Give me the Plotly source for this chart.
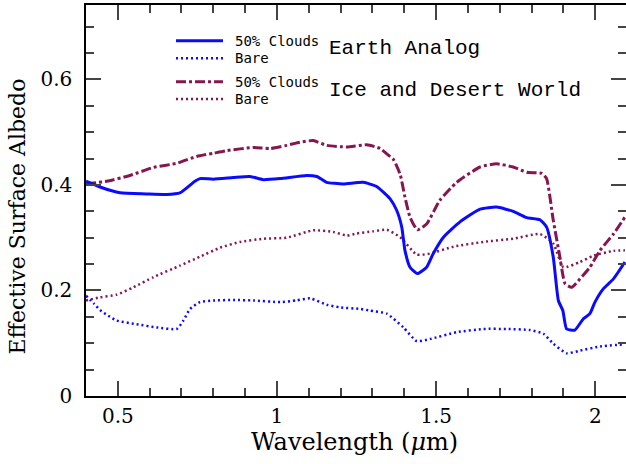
import plotly.graph_objects as go

# ---------------- data ----------------
earth_cloud_wl = [0.40, 0.444, 0.507, 0.59, 0.653, 0.695, 0.742, 0.758, 0.80, 0.863, 0.915, 0.957,
                  1.01, 1.093, 1.125, 1.145, 1.156, 1.208, 1.271, 1.313, 1.34, 1.355, 1.376, 1.392,
                  1.402, 1.418, 1.441, 1.47, 1.491, 1.523, 1.575, 1.638, 1.69, 1.742, 1.785, 1.826,
                  1.847, 1.868, 1.884, 1.898, 1.91, 1.936, 1.962, 1.983, 1.999, 2.025, 2.057, 2.093]
earth_cloud_alb = [0.407, 0.396, 0.385, 0.383, 0.382, 0.385, 0.407, 0.412, 0.411, 0.414, 0.416, 0.410,
                   0.412, 0.418, 0.416, 0.409, 0.405, 0.402, 0.405, 0.397, 0.383, 0.374, 0.352, 0.320,
                   0.276, 0.244, 0.232, 0.244, 0.270, 0.301, 0.330, 0.354, 0.358, 0.350, 0.338, 0.334,
                   0.320, 0.263, 0.181, 0.162, 0.127, 0.125, 0.146, 0.156, 0.178, 0.203, 0.222, 0.254]

earth_bare_wl = [0.40, 0.425, 0.444, 0.47, 0.496, 0.559, 0.622, 0.685, 0.706, 0.727, 0.758, 0.80,
                 0.863, 0.926, 1.01, 1.06, 1.104, 1.156, 1.198, 1.261, 1.292, 1.345, 1.397, 1.439,
                 1.481, 1.565, 1.648, 1.722, 1.795, 1.837, 1.868, 1.91, 1.952, 2.015, 2.093]
earth_bare_alb = [0.190, 0.175, 0.163, 0.152, 0.143, 0.136, 0.130, 0.127, 0.143, 0.165, 0.178, 0.181,
                  0.182, 0.181, 0.178, 0.181, 0.185, 0.173, 0.168, 0.165, 0.162, 0.156, 0.130, 0.104,
                  0.108, 0.121, 0.127, 0.127, 0.125, 0.118, 0.099, 0.081, 0.086, 0.094, 0.098]

ice_cloud_wl = [0.40, 0.465, 0.538, 0.611, 0.685, 0.748, 0.80, 0.842, 0.926, 0.978, 1.031, 1.072,
                1.114, 1.156, 1.219, 1.282, 1.324, 1.345, 1.366, 1.387, 1.402, 1.418, 1.441, 1.47,
                1.512, 1.565, 1.638, 1.69, 1.742, 1.785, 1.832, 1.847, 1.868, 1.889, 1.905, 1.926,
                1.952, 1.983, 2.015, 2.057, 2.093]
ice_cloud_alb = [0.402, 0.407, 0.418, 0.433, 0.441, 0.454, 0.460, 0.465, 0.471, 0.469, 0.475, 0.481,
                 0.484, 0.475, 0.472, 0.476, 0.469, 0.459, 0.448, 0.420, 0.377, 0.339, 0.315, 0.326,
                 0.371, 0.405, 0.434, 0.440, 0.434, 0.424, 0.422, 0.412, 0.333, 0.263, 0.213, 0.206,
                 0.222, 0.244, 0.276, 0.307, 0.339]

ice_bare_wl = [0.40, 0.444, 0.496, 0.549, 0.611, 0.695, 0.758, 0.821, 0.884, 0.957, 1.03, 1.114,
               1.177, 1.219, 1.25, 1.30, 1.345, 1.387, 1.439, 1.481, 1.554, 1.648, 1.742, 1.826,
               1.868, 1.90, 1.952, 1.994, 2.057, 2.093]
ice_bare_alb = [0.181, 0.187, 0.192, 0.206, 0.225, 0.247, 0.264, 0.281, 0.292, 0.298, 0.300, 0.314,
                0.311, 0.304, 0.308, 0.312, 0.315, 0.301, 0.268, 0.270, 0.283, 0.292, 0.298, 0.307,
                0.289, 0.244, 0.254, 0.266, 0.275, 0.276]

x_tickvals = [0.5, 1.0, 1.5, 2.0]
x_ticktext = ["0.5", "1", "1.5", "2"]
y_tickvals = [0.0, 0.2, 0.4, 0.6]
y_ticktext = ["0", "0.2", "0.4", "0.6"]

x_title = "Wavelength (<i>μ</i>m)"
y_title = "Effective Surface Albedo"

BLUE = "#0a0aff"
MAROON = "#861650"
SERIF = "DejaVu Serif"
SMOOTH = 0.5

fig = go.Figure()
fig.add_trace(go.Scatter(x=earth_bare_wl, y=earth_bare_alb, mode="lines",
                         line=dict(color=BLUE, width=2.5, dash="2px,3px", shape="spline", smoothing=SMOOTH),
                         showlegend=False))
fig.add_trace(go.Scatter(x=ice_bare_wl, y=ice_bare_alb, mode="lines",
                         line=dict(color=MAROON, width=2.5, dash="2px,3px", shape="spline", smoothing=SMOOTH),
                         showlegend=False))
fig.add_trace(go.Scatter(x=ice_cloud_wl, y=ice_cloud_alb, mode="lines",
                         line=dict(color=MAROON, width=3, dash="10px,3px,3px,3px", shape="spline",
                                   smoothing=SMOOTH),
                         showlegend=False))
fig.add_trace(go.Scatter(x=earth_cloud_wl, y=earth_cloud_alb, mode="lines",
                         line=dict(color=BLUE, width=3, shape="spline", smoothing=SMOOTH),
                         showlegend=False))
# invisible trace to register mirrored axes
fig.add_trace(go.Scatter(x=[None], y=[None], xaxis="x2", yaxis="y2", showlegend=False,
                         hoverinfo="skip"))

XR = [0.4, 2.0965]
YR = [0.0, 0.741]
tick_common = dict(ticks="inside", ticklen=15, tickwidth=1.5, tickcolor="#444", automargin=False)

fig.update_layout(
    width=626, height=464,
    margin=dict(l=86, r=0, t=5, b=68),
    paper_bgcolor="white", plot_bgcolor="white",
    font=dict(family=SERIF, size=20, color="black"),
    xaxis=dict(range=XR, tickvals=x_tickvals, ticktext=x_ticktext, showgrid=False, zeroline=False,
               showline=True, linecolor="black", linewidth=1.5, ticklabelstandoff=1,
               minor=dict(dtick=0.1, tick0=0.4, ticks="inside", ticklen=8, tickwidth=1.5, tickcolor="#444"),
               **tick_common),
    yaxis=dict(range=YR, tickvals=y_tickvals, ticktext=y_ticktext, showgrid=False, zeroline=False,
               showline=True, linecolor="black", linewidth=1.5, ticklabelstandoff=8,
               minor=dict(dtick=0.05, tick0=0, ticks="inside", ticklen=8, tickwidth=1.5, tickcolor="#444"),
               **tick_common),
    xaxis2=dict(range=XR, overlaying="x", side="top", tickvals=x_tickvals, showticklabels=False,
                showgrid=False, zeroline=False, showline=True, linecolor="black", linewidth=1.5,
                minor=dict(dtick=0.1, tick0=0.4, ticks="inside", ticklen=8, tickwidth=1.5, tickcolor="#444"),
                **tick_common),
    yaxis2=dict(range=YR, overlaying="y", side="right", tickvals=y_tickvals, showticklabels=False,
                showgrid=False, zeroline=False, showline=False,
                minor=dict(dtick=0.05, tick0=0, ticks="inside", ticklen=8, tickwidth=1.5, tickcolor="#444"),
                **tick_common),
)

# axis titles
fig.add_annotation(xref="paper", yref="paper", x=0.497, y=-0.1176, xanchor="center", yanchor="middle",
                   text=x_title, showarrow=False, font=dict(family=SERIF, size=24, color="black"))
fig.add_annotation(xref="paper", yref="paper", x=-0.1269, y=0.46, xanchor="center", yanchor="middle",
                   text=y_title, textangle=-90, showarrow=False,
                   font=dict(family=SERIF, size=22, color="black"))

# ---------------- custom legend ----------------
leg_x0, leg_x1 = 0.1667, 0.2537
legend_rows = [
    (0.9087, BLUE, 3, "solid", "50% Clouds"),
    (0.8637, BLUE, 2.5, "2px,3px", "Bare"),
    (0.8038, MAROON, 3, "10px,3px,3px,3px", "50% Clouds"),
    (0.7596, MAROON, 2.5, "2px,3px", "Bare"),
]
for yy, col, w, d, label in legend_rows:
    fig.add_shape(type="line", xref="paper", yref="paper", x0=leg_x0, x1=leg_x1, y0=yy, y1=yy,
                  line=dict(color=col, width=w, dash=d))
    fig.add_annotation(xref="paper", yref="paper", x=0.2717, y=yy, xanchor="left", yanchor="middle",
                       text=label, showarrow=False,
                       font=dict(family="DejaVu Sans Mono", size=14, color="black"))

fig.add_annotation(xref="paper", yref="paper", x=0.4463, y=0.8875, xanchor="left", yanchor="middle",
                   text="Earth Analog", showarrow=False,
                   font=dict(family="Liberation Mono", size=21, color="black"))
fig.add_annotation(xref="paper", yref="paper", x=0.4463, y=0.7808, xanchor="left", yanchor="middle",
                   text="Ice and Desert World", showarrow=False,
                   font=dict(family="Liberation Mono", size=21, color="black"))

fig.write_html("out.html", config={"displayModeBar": False},
               post_script="document.body.style.margin='0px';")
